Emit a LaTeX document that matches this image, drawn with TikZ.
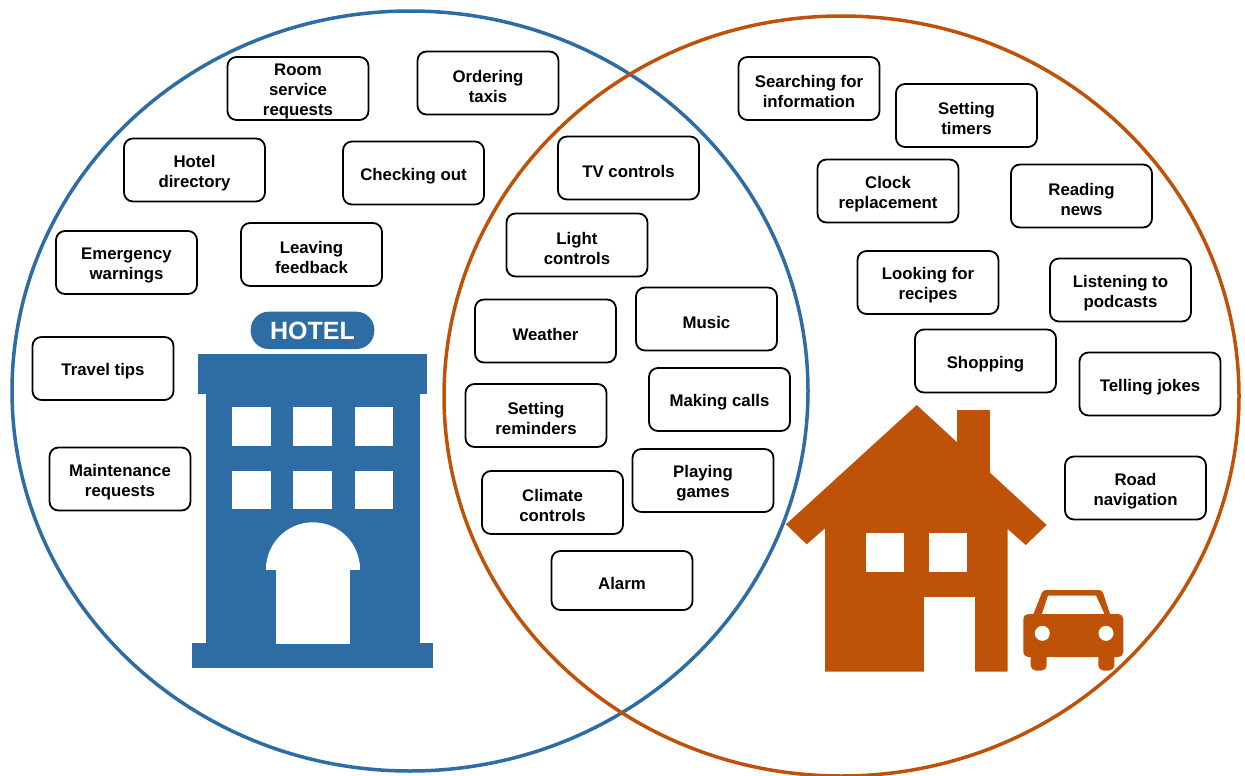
\documentclass[tikz,border=0pt]{standalone}
\usepackage{fontspec}
\setmainfont{Liberation Sans}
\definecolor{hblue}{RGB}{46,108,164}
\definecolor{horange}{RGB}{190,82,8}
\newcommand\itembox[4][]{%
  \node[item,#1] (#2) at (#3) {};
  \node[itemtext] (#2-t) at ([yshift=-3pt]#2.center) {#4};}
\begin{document}
\begin{tikzpicture}[x=1pt,y=-1pt,
  item/.style={draw=black, line width=1.8pt, rounded corners=9pt, fill=white,
    minimum width=141pt, minimum height=63pt, inner sep=0pt},
  itemtext/.style={inner sep=0pt, align=center,
    font=\fontsize{16.8}{20}\selectfont\bfseries}]
\useasboundingbox (0,0) rectangle (1245,776);
% circles
\draw[hblue, line width=3.5pt] (410,391) ellipse [x radius=398, y radius=380];
\draw[horange, line width=3.5pt] (841.5,396) ellipse [x radius=397.5, y radius=380];
% hotel building
\fill[hblue, rounded corners=18pt] (250.7,311.7) rectangle (374.3,349);
\node[text=white, font=\fontsize{25}{25}\selectfont\bfseries] (hoteltxt) at (312.5,330.5) {HOTEL};
\fill[hblue] (198.3,354.3) rectangle (427.3,394.3);
\fill[hblue] (206,394) rectangle (420,643.5);
\fill[hblue] (191.7,643) rectangle (433.3,668.3);
\foreach \x in {232.3,293.3,355} {
  \fill[white] (\x,407.3) rectangle ++(38.3,38.7);
  \fill[white] (\x,471) rectangle ++(38.3,38.3);
}
\fill[white] (266,569.3) arc[start angle=180, end angle=360, radius=47] -- cycle;
\fill[white] (266,563) rectangle (360,569.5);
\fill[white] (275.7,569) rectangle (350,643.5);
% house
\fill[horange] (956.7,410) rectangle (990,472);
\fill[horange] (786,524.3) -- (916.7,405) -- (1046.7,525) -- (1025.7,545) -- (1007.7,529)
  -- (1007.7,671.7) -- (825,671.7) -- (825,528.3) -- (806.7,544.3) -- cycle;
\fill[white] (866,532.7) rectangle (904.3,572);
\fill[white] (929.3,532.7) rectangle (967.3,572);
\fill[white] (924,597.3) rectangle (975,672);
% car
\fill[horange, rounded corners=3pt] (1043,590) -- (1102,590) -- (1112,620) -- (1031,620) -- cycle;
\fill[white] (1048,595.7) -- (1096,595.7) -- (1106,617.7) -- (1040.7,617.7) -- cycle;
\fill[horange, rounded corners=5pt] (1023.3,614) rectangle (1123.3,657);
\fill[horange, rounded corners=5pt] (1030.7,650) rectangle (1046.7,670.5);
\fill[horange, rounded corners=5pt] (1098.3,650) rectangle (1114.3,670.5);
\fill[white] (1042.3,633.3) circle[radius=7.5];
\fill[white] (1106,633.3) circle[radius=7.5];
% hotel-only items
\itembox{room}{298,88.5}{Room\\service\\requests}
\itembox{taxis}{488,83}{Ordering\\taxis}
\itembox{hoteldir}{194.5,170}{Hotel\\directory}
\itembox{checkout}{413.5,173}{Checking out}
\itembox{emergency}{126.5,262.5}{Emergency\\warnings}
\itembox{feedback}{311.5,254.5}{Leaving\\feedback}
\itembox{travel}{103,368.5}{Travel tips}
\itembox{maint}{120,479}{Maintenance\\requests}
% shared items
\itembox{tv}{628.5,168}{TV controls}
\itembox{light}{577,245}{Light\\controls}
\itembox{weather}{545.5,331}{Weather}
\itembox{music}{706.5,319}{Music}
\itembox{reminders}{536,415.5}{Setting\\reminders}
\itembox{calls}{719.5,399.5}{Making calls}
\itembox{climate}{552.5,502.5}{Climate\\controls}
\itembox{games}{703,480.5}{Playing\\games}
\itembox[minimum height=59pt]{alarm}{622,580.5}{Alarm}
% home-only items
\itembox{search}{809,88.5}{Searching for\\information}
\itembox{timers}{966.5,115.5}{Setting\\timers}
\itembox{clock}{888,191}{Clock\\replacement}
\itembox{news}{1081.5,196}{Reading\\news}
\itembox{recipes}{928,282.5}{Looking for\\recipes}
\itembox{podcasts}{1120.5,290}{Listening to\\podcasts}
\itembox{shopping}{985.5,361}{Shopping}
\itembox{jokes}{1150,384}{Telling jokes}
\itembox{road}{1135.5,488}{Road\\navigation}
\end{tikzpicture}
\end{document}
